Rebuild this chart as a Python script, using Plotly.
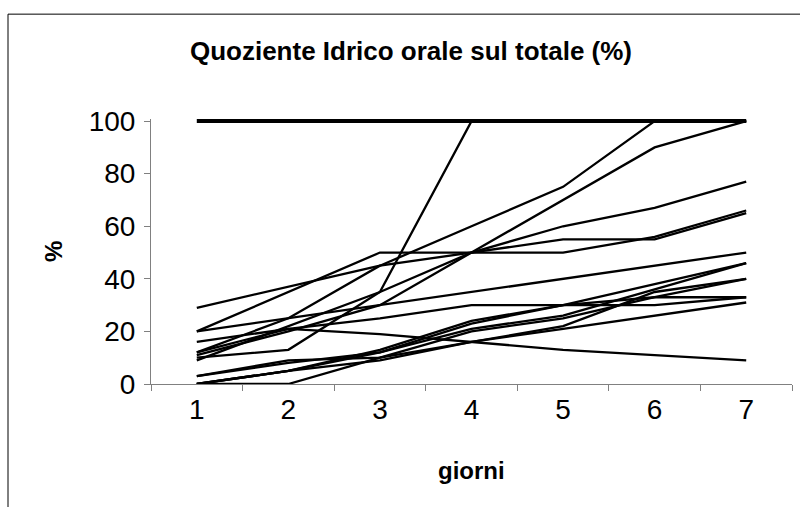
import plotly.graph_objects as go

days = ["1", "2", "3", "4", "5", "6", "7"]

s_const = [100, 100, 100, 100, 100, 100, 100]
s_a = [29, 37, 45, 60, 75, 100, 100]
s_b = [10, 13, 35, 100, 100, 100, 100]
s_c = [9, 22, 35, 50, 70, 90, 100]
s_d = [11, 20, 30, 50, 60, 67, 77]
s_e = [20, 35, 50, 50, 50, 56, 66]
s_f = [12, 25, 45, 50, 55, 55, 65]
s_g = [20, 25, 30, 35, 40, 45, 50]
s_h = [16, 21, 25, 30, 30, 30, 33]
s_i = [12, 21, 19, 16, 13, 11, 9]
s_j = [0, 5, 13, 24, 30, 38, 46]
s_k = [0, 5, 12, 21, 26, 36, 46]
s_l = [3, 9, 10, 16, 22, 35, 40]
s_m = [0, 5, 9, 16, 21, 26, 31]
s_n = [0, 0, 10, 20, 25, 33, 40]
s_o = [3, 8, 12, 23, 30, 33, 33]

series = [s_const, s_a, s_b, s_c, s_d, s_e, s_f, s_g, s_h, s_i,
          s_j, s_k, s_l, s_m, s_n, s_o]

fig = go.Figure()
for s in series:
    fig.add_trace(go.Scatter(x=days, y=s, mode="lines",
                             line=dict(color="black", width=2.3),
                             cliponaxis=False, showlegend=False,
                             hoverinfo="skip"))
fig.data[0].line.width = 4

font = "Liberation Sans, Arial, sans-serif"

# plot area in pixels (y=0 at 384, y=100 at 121; small headroom so the
# thick 100 line is not clipped)
YMAX = 100.8
L, R, B = 151, 792, 384
PX_PER_UNIT = (384 - 121) / 100
T = B - YMAX * PX_PER_UNIT
W, H = R - L, B - T

fig.update_layout(
    width=800, height=507,
    margin=dict(l=L, r=800 - R, t=T, b=507 - B, autoexpand=False),
    paper_bgcolor="white", plot_bgcolor="white",
    hovermode=False,
    title=dict(text="<b>Quoziente Idrico orale sul totale (%)</b>",
               x=411 / 800, xanchor="center", y=1 - 51 / 507, yanchor="middle",
               font=dict(family=font, size=26, color="black")),
    xaxis=dict(type="category", range=[-0.5, 6.5], tickson="boundaries",
               ticks="outside", ticklen=6, tickcolor="#808080",
               showline=True, linecolor="#808080", linewidth=1,
               showgrid=False, zeroline=False, automargin=False,
               tickfont=dict(family=font, size=28, color="black")),
    yaxis=dict(range=[0, YMAX], tickvals=[0, 20, 40, 60, 80, 100],
               ticks="outside", ticklen=6, tickcolor="#808080",
               showline=True, linecolor="#808080", linewidth=1,
               showgrid=False, zeroline=False, automargin=False,
               ticklabelstandoff=3,
               tickfont=dict(family=font, size=28, color="black")),
    annotations=[
        dict(text="<b>giorni</b>", xref="paper", yref="paper",
             x=0.5, y=0, yshift=-(470 - B), xanchor="center", yanchor="middle",
             showarrow=False, font=dict(family=font, size=24, color="black")),
        dict(text="<b>%</b>", xref="paper", yref="paper",
             x=0, y=(B - 252) / H, xshift=-(L - 53), xanchor="center",
             yanchor="middle", textangle=-90, showarrow=False,
             font=dict(family=font, size=24, color="black")),
    ],
    shapes=[dict(type="rect", xref="paper", yref="paper",
                 x0=(8 - L) / W, x1=(815 - L) / W,
                 y0=(B - 530) / H, y1=(B - 14) / H,
                 line=dict(color="black", width=1), layer="below")],
)

fig.write_html("out.html", config={"displayModeBar": False},
               post_script="document.body.style.margin='0';")
